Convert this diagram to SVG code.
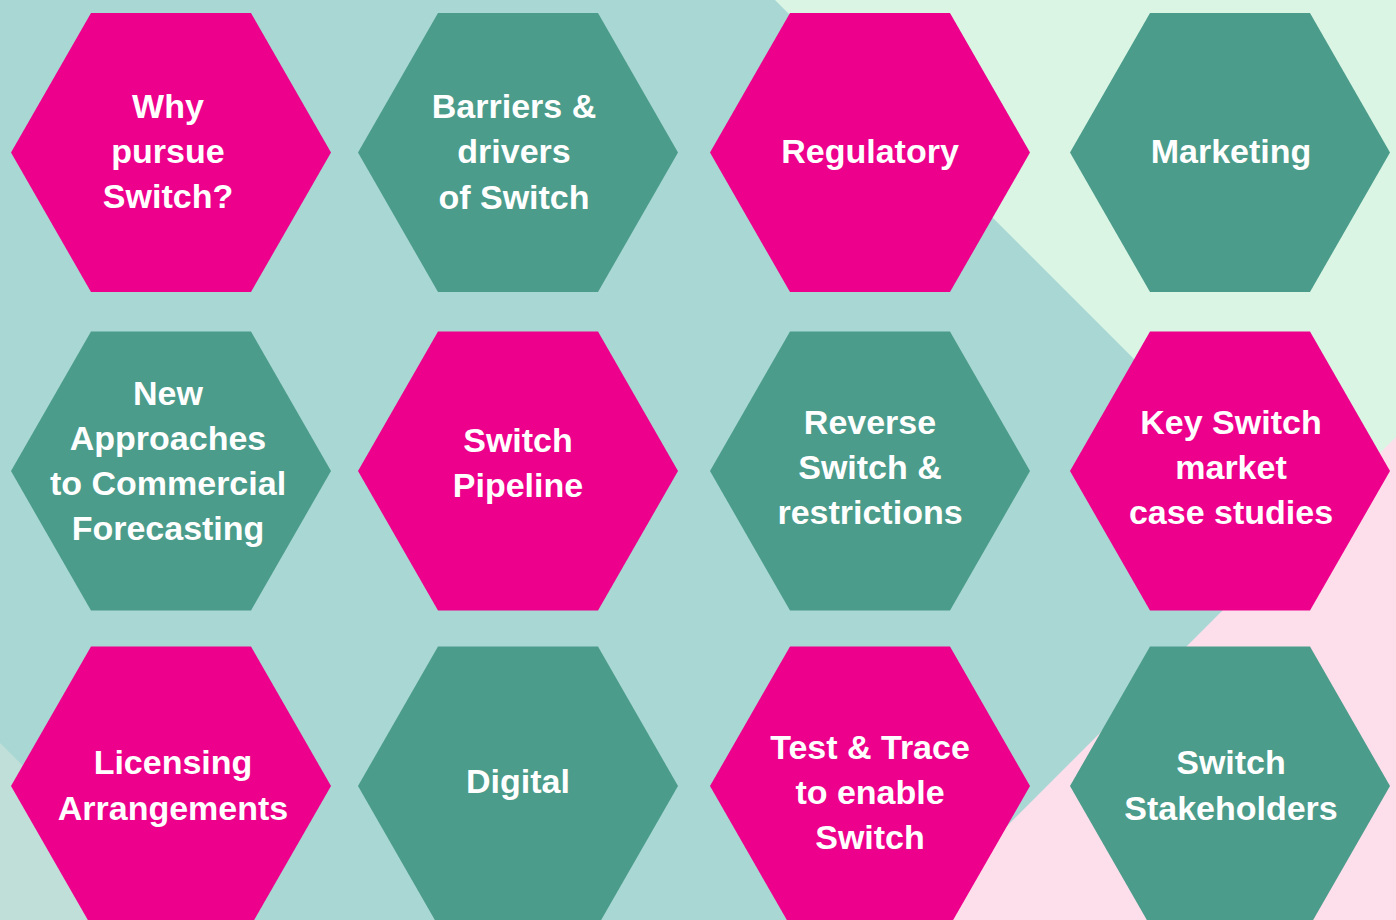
<svg xmlns="http://www.w3.org/2000/svg" xmlns:xlink="http://www.w3.org/1999/xlink" width="1396" height="920" viewBox="0 0 1396 920">
<defs>
<style>
.pk{fill:#ec008c}
.gn{fill:#4b9c8a}
.t{font-family:"Liberation Sans",Arial,sans-serif;font-weight:bold;font-size:34px;fill:#ffffff;text-anchor:middle}
</style>
<polygon id="hex" points="0,0 80,-139.5 240,-139.5 320,0 240,139.5 80,139.5"/>
</defs>
<g id="background">
<rect x="0" y="0" width="1396" height="920" fill="#a9d7d4"/>
<polygon points="775,0 1396,0 1396,621" fill="#dbf5e5"/>
<polygon points="1396,437 1396,920 913,920" fill="#fddfec"/>
<polygon points="0,743 177,920 0,920" fill="#c1dfd9"/>
</g>
<g id="connectors"></g>
<g id="n1"><use xlink:href="#hex" href="#hex" x="11" y="152.5" class="pk"/>
<text class="t" x="168"><tspan x="168" y="118">Why</tspan><tspan x="168" y="163">pursue</tspan><tspan x="168" y="208">Switch?</tspan></text></g>
<g id="n2"><use xlink:href="#hex" href="#hex" x="358" y="152.5" class="gn"/>
<text class="t" x="514"><tspan x="514" y="118">Barriers &amp;</tspan><tspan x="514" y="163">drivers</tspan><tspan x="514" y="209">of Switch</tspan></text></g>
<g id="n3"><use xlink:href="#hex" href="#hex" x="710" y="152.5" class="pk"/>
<text class="t" x="870" y="163">Regulatory</text></g>
<g id="n4"><use xlink:href="#hex" href="#hex" x="1070" y="152.5" class="gn"/>
<text class="t" x="1231" y="163">Marketing</text></g>
<g id="n5"><use xlink:href="#hex" href="#hex" x="11" y="471" class="gn"/>
<text class="t" x="168"><tspan x="168" y="405">New</tspan><tspan x="168" y="450">Approaches</tspan><tspan x="168" y="495">to Commercial</tspan><tspan x="168" y="540">Forecasting</tspan></text></g>
<g id="n6"><use xlink:href="#hex" href="#hex" x="358" y="471" class="pk"/>
<text class="t" x="518"><tspan x="518" y="452">Switch</tspan><tspan x="518" y="497">Pipeline</tspan></text></g>
<g id="n7"><use xlink:href="#hex" href="#hex" x="710" y="471" class="gn"/>
<text class="t" x="870"><tspan x="870" y="434">Reverse</tspan><tspan x="870" y="479">Switch &amp;</tspan><tspan x="870" y="524">restrictions</tspan></text></g>
<g id="n8"><use xlink:href="#hex" href="#hex" x="1070" y="471" class="pk"/>
<text class="t" x="1231"><tspan x="1231" y="434">Key Switch</tspan><tspan x="1231" y="479">market</tspan><tspan x="1231" y="524">case studies</tspan></text></g>
<g id="n9"><use xlink:href="#hex" href="#hex" x="11" y="786" class="pk"/>
<text class="t" x="173"><tspan x="173" y="774">Licensing</tspan><tspan x="173" y="820">Arrangements</tspan></text></g>
<g id="n10"><use xlink:href="#hex" href="#hex" x="358" y="786" class="gn"/>
<text class="t" x="518" y="793">Digital</text></g>
<g id="n11"><use xlink:href="#hex" href="#hex" x="710" y="786" class="pk"/>
<text class="t" x="870"><tspan x="870" y="759">Test &amp; Trace</tspan><tspan x="870" y="804">to enable</tspan><tspan x="870" y="849">Switch</tspan></text></g>
<g id="n12"><use xlink:href="#hex" href="#hex" x="1070" y="786" class="gn"/>
<text class="t" x="1231"><tspan x="1231" y="774">Switch</tspan><tspan x="1231" y="820">Stakeholders</tspan></text></g>
</svg>
